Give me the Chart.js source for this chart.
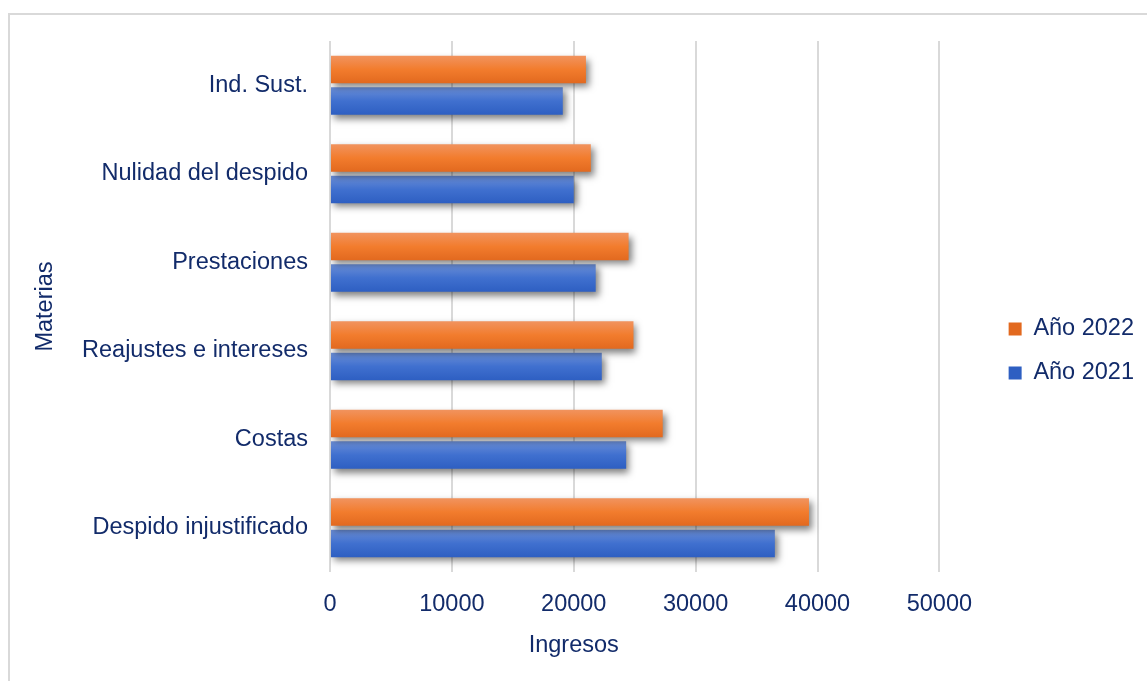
<!DOCTYPE html>
<html>
<head>
<meta charset="utf-8">
<script src="https://cdn.jsdelivr.net/npm/chart.js@4.4.1/dist/chart.umd.min.js"></script>
<style>
  html, body { margin: 0; padding: 0; background: #fff; overflow: hidden; }
  #frame { position: absolute; left: 8px; top: 13px; width: 1200px; height: 720px; border: 2px solid #d9d9d9; box-sizing: border-box; }
  #wrap { position: absolute; left: 0; top: 0; width: 1147px; height: 681px; }
</style>
</head>
<body>
<div id="frame"></div>
<div id="wrap"><canvas id="ingresosChart" width="1147" height="681"></canvas></div>
<script>
// datos
const materias = ['Ind. Sust.', 'Nulidad del despido', 'Prestaciones', 'Reajustes e intereses', 'Costas', 'Despido injustificado'];
const anio2022 = [21000, 21400, 24500, 24900, 27300, 39300];
const anio2021 = [19100, 20000, 21800, 22300, 24300, 36500];
const xTicks = [0, 10000, 20000, 30000, 40000, 50000];

const navy = '#122b6a';
const font = { family: "'Liberation Sans', Arial, sans-serif", size: 23.5 };
const CAT_PCT = 0.71;
const BAR_PCT = 0.87;

// degradado vertical por barra, calculado desde la escala y
function barFill(stops, solid) {
    return function (c) {
        const chart = c.chart;
        const y = chart.scales && chart.scales.y;
        if (c.type !== 'data' || !y || !chart.chartArea) return solid;
        const slot = (y.height / materias.length) * CAT_PCT / 2;
        const mid = y.getPixelForValue(c.dataIndex) + (c.datasetIndex - 0.5) * slot;
        const half = slot * BAR_PCT / 2;
        const g = chart.ctx.createLinearGradient(0, mid - half, 0, mid + half);
        stops.forEach(s => g.addColorStop(s[0], s[1]));
        return g;
    };
}

const shadowPlugin = {
    id: 'barShadow',
    beforeDatasetsDraw(chart) {
        const ctx = chart.ctx;
        ctx.save();
        ctx.shadowColor = 'rgba(0,0,0,0.5)';
        ctx.shadowBlur = 7;
        ctx.shadowOffsetX = 3;
        ctx.shadowOffsetY = 4;
    },
    afterDatasetsDraw(chart) {
        chart.ctx.restore();
    }
};

// titulo del eje x (en el original no esta centrado en el area)
const xTitlePlugin = {
    id: 'xTitle',
    afterDraw(chart) {
        const ctx = chart.ctx;
        ctx.save();
        ctx.font = font.size + 'px ' + font.family;
        ctx.fillStyle = navy;
        ctx.textAlign = 'center';
        ctx.textBaseline = 'middle';
        ctx.fillText('Ingresos', chart.scales.x.getPixelForValue(20000), chart.chartArea.bottom + 74);
        ctx.restore();
    }
};

var ctx = document.getElementById('ingresosChart').getContext('2d');

var ingresosChart = new Chart(ctx, {
    type: 'bar',
    data: {
        labels: materias,
        datasets: [
            {
                label: 'Año 2022',
                data: anio2022,
                backgroundColor: barFill([[0, '#f1935e'], [0.5, '#f27c2d'], [1, '#e2691f']], '#ef7f38'),
                borderWidth: 0
            },
            {
                label: 'Año 2021',
                data: anio2021,
                backgroundColor: barFill([[0, '#6b8ed6'], [0.5, '#4070cf'], [1, '#2e5fc2']], '#4a76cb'),
                borderWidth: 0
            }
        ]
    },
    options: {
        indexAxis: 'y',
        responsive: false,
        animation: false,
        devicePixelRatio: 1,
        barPercentage: BAR_PCT,
        categoryPercentage: CAT_PCT,
        layout: { padding: { top: 41, right: 3, bottom: 20, left: 0 } },
        plugins: {
            tooltip: { enabled: false },
            legend: {
                position: 'right',
                labels: { boxWidth: 13, boxHeight: 13, padding: 20.5, color: navy, font: font }
            }
        },
        scales: {
            x: {
                min: 0,
                max: 54000,
                afterBuildTicks: s => { s.ticks = xTicks.map(v => ({ value: v })); },
                afterFit: s => { s.height = 89; },
                grid: { color: '#d9d9d9', lineWidth: 2, drawTicks: false },
                border: { display: false },
                ticks: { padding: 18, color: navy, font: font, maxRotation: 0, callback: v => String(v) }
            },
            y: {
                afterFit: s => { s.width = 330; },
                grid: { display: false, drawTicks: false },
                border: { display: false },
                ticks: { padding: 22, color: navy, font: font },
                title: { display: true, text: 'Materias', padding: { top: 31, bottom: 0 }, color: navy, font: font }
            }
        }
    },
    plugins: [shadowPlugin, xTitlePlugin]
});
</script>
</body>
</html>
